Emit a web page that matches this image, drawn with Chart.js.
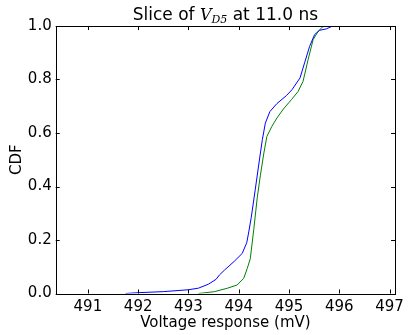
<!DOCTYPE html>
<html>
<head>
<meta charset="utf-8">
<script src="https://cdn.jsdelivr.net/npm/chart.js@4.4.1/dist/chart.umd.min.js"></script>
<style>
  html, body { margin: 0; padding: 0; background: #fff; }
  canvas { display: block; }
</style>
</head>
<body>
<canvas id="cdf-chart" width="409" height="335"></canvas>
<script>
// Values
const blueX = [491.75, 492.0, 492.5, 493.0, 493.2, 493.4, 493.55, 493.62, 493.72, 493.91, 494.07, 494.16, 494.2, 494.25,
    494.33, 494.42, 494.47, 494.53, 494.62, 494.76, 494.95, 495.06, 495.22, 495.31, 495.41, 495.51, 495.61, 495.74, 495.87];
const blueY = [0, 0.003, 0.007, 0.014, 0.02, 0.035, 0.053, 0.07, 0.088, 0.12, 0.15, 0.19, 0.23, 0.285,
    0.39, 0.51, 0.575, 0.637, 0.68, 0.71, 0.74, 0.762, 0.806, 0.862, 0.924, 0.968, 0.984, 0.989, 1.0];

const greenX = [493.2, 493.52, 493.78, 493.97, 494.1, 494.17, 494.23, 494.3, 494.37, 494.43, 494.5, 494.56, 494.66,
    494.76, 494.89, 495.05, 495.18, 495.28, 495.38, 495.48, 495.58, 495.67, 495.77];
const greenY = [0, 0.007, 0.02, 0.032, 0.057, 0.094, 0.13, 0.24, 0.36, 0.44, 0.525, 0.587, 0.625,
    0.656, 0.69, 0.725, 0.755, 0.793, 0.874, 0.949, 0.98, 0.997, 1.0];

const xTicks = [491, 492, 493, 494, 495, 496, 497];
const yTicks = [0, 0.2, 0.4, 0.6, 0.8, 1.0];

const FONT = 'DejaVu Sans';
const toPoints = (xs, ys) => xs.map((x, i) => ({ x: x, y: ys[i] }));

// Title with the math-style V_{D5} part
const titlePlugin = {
    id: 'mathTitle',
    afterDraw(chart) {
        const { ctx, chartArea } = chart;
        const parts = [
            { text: 'Slice of ', font: '17px "' + FONT + '"', dy: 0 },
            { text: 'V', font: 'italic 16px "DejaVu Serif"', dy: 0 },
            { text: 'D5', font: 'italic 11px "DejaVu Serif"', dy: 3 },
            { text: ' at 11.0 ns', font: '17px "' + FONT + '"', dy: 0 }
        ];
        ctx.save();
        ctx.fillStyle = '#000';
        ctx.textBaseline = 'alphabetic';
        let total = 0;
        parts.forEach(p => { ctx.font = p.font; p.w = ctx.measureText(p.text).width; total += p.w; });
        let x = (chartArea.left + chartArea.right) / 2 - total / 2;
        const base = 20;
        parts.forEach(p => {
            ctx.font = p.font;
            ctx.fillText(p.text, x, base + p.dy);
            x += p.w;
        });
        ctx.restore();
    }
};

// Box frame and inward tick marks, like the classic style
const frameTicks = {
    id: 'frameTicks',
    afterDraw(chart) {
        const { ctx, chartArea: a, scales } = chart;
        const len = 4;
        ctx.save();
        ctx.strokeStyle = '#000';
        ctx.lineWidth = 1;
        ctx.beginPath();
        xTicks.forEach(v => {
            const px = Math.round(scales.x.getPixelForValue(v)) + 0.5;
            ctx.moveTo(px, a.bottom); ctx.lineTo(px, a.bottom - len);
            ctx.moveTo(px, a.top); ctx.lineTo(px, a.top + len);
        });
        yTicks.forEach(v => {
            const py = Math.round(scales.y.getPixelForValue(v)) + 0.5;
            ctx.moveTo(a.left, py); ctx.lineTo(a.left + len, py);
            ctx.moveTo(a.right, py); ctx.lineTo(a.right - len, py);
        });
        ctx.stroke();
        ctx.strokeRect(Math.round(a.left) + 0.5, Math.round(a.top) + 0.5,
            Math.round(a.right - a.left), Math.round(a.bottom - a.top));
        ctx.restore();
    }
};

new Chart(document.getElementById('cdf-chart'), {
    type: 'scatter',
    data: {
        datasets: [
            { data: toPoints(blueX, blueY), borderColor: '#0000ff', borderWidth: 1, showLine: true, pointRadius: 0, tension: 0 },
            { data: toPoints(greenX, greenY), borderColor: '#008000', borderWidth: 1, showLine: true, pointRadius: 0, tension: 0 }
        ]
    },
    options: {
        responsive: false,
        animation: false,
        layout: { padding: { top: 26, right: 9, left: 0, bottom: 0 } },
        plugins: { legend: { display: false }, tooltip: { enabled: false } },
        scales: {
            x: {
                type: 'linear',
                min: 490.36,
                max: 497.11,
                grid: { display: false, drawTicks: false },
                border: { display: false },
                afterBuildTicks: s => { s.ticks = xTicks.map(v => ({ value: v })); },
                afterFit: s => { s.height = 41.5; },
                ticks: { color: '#000', font: { family: FONT, size: 15 }, padding: 5, maxRotation: 0 },
                title: { display: true, text: 'Voltage response (mV)', color: '#000', font: { family: FONT, size: 15 }, padding: { top: 0, bottom: 3 } }
            },
            y: {
                min: 0,
                max: 1,
                grid: { display: false, drawTicks: false },
                border: { display: false },
                afterBuildTicks: s => { s.ticks = yTicks.map(v => ({ value: v })); },
                afterFit: s => { s.width = 55.7; },
                ticks: { color: '#000', font: { family: FONT, size: 15 }, padding: 4, callback: v => v.toFixed(1) },
                title: { display: true, text: 'CDF', color: '#000', font: { family: FONT, size: 15 }, padding: { top: 8, bottom: 0 } }
            }
        }
    },
    plugins: [titlePlugin, frameTicks]
});
</script>
</body>
</html>
